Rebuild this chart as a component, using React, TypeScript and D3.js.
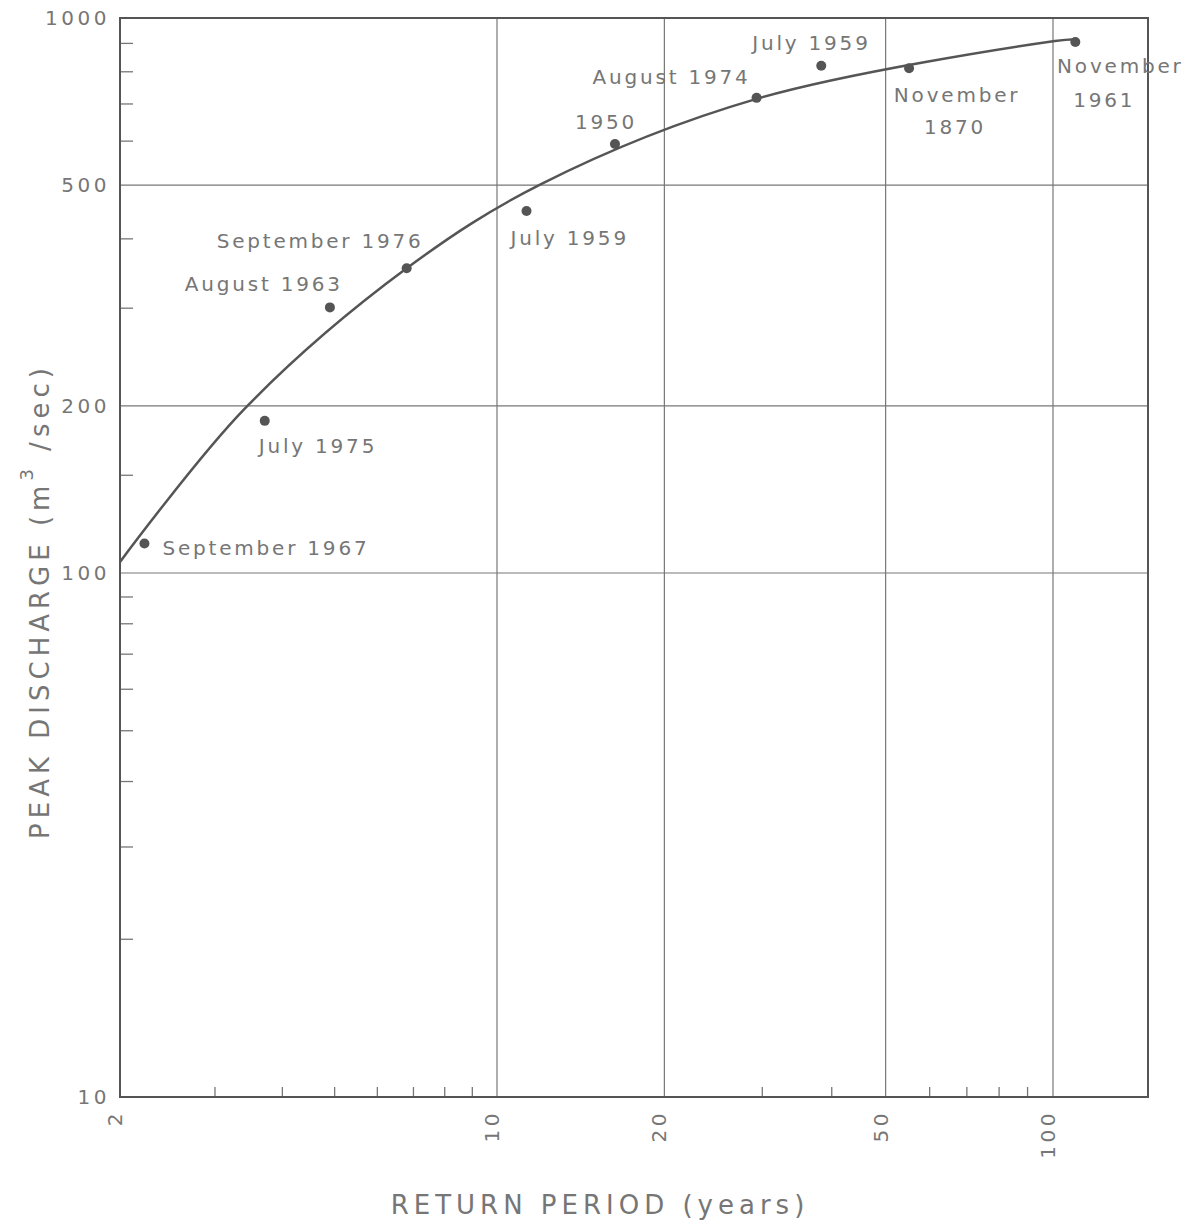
import React from "react";
import * as d3 from "d3";

// observed floods: return period (years) vs peak discharge (m3/sec)
const returnPeriods = [2.22, 3.71, 4.9, 6.8, 11.3, 16.3, 29.3, 38.3, 55.1, 110];
const discharges = [113, 188, 301, 354, 449, 593, 718, 820, 812, 905];
const eventLabels = [
  ["September 1967"],
  ["July 1975"],
  ["August 1963"],
  ["September 1976"],
  ["July 1959"],
  ["1950"],
  ["August 1974"],
  ["July 1959"],
  ["November", "1870"],
  ["November", "1961"],
];

// fitted frequency curve
const curvePeriods = [2.0, 3.41, 6.8, 12, 29.3, 100.8, 110];
const curveDischarges = [104.7, 198, 354, 502, 715, 909, 916];

// axes
const xLabelTicks = [2, 10, 20, 50, 100];
const xGridTicks = [10, 20, 50, 100];
const xMinorTicks = [3, 4, 5, 6, 7, 8, 9, 30, 40, 60, 70, 80, 90];
const yLabelTicks = [10, 100, 200, 500, 1000];
const yGridTicks = [100, 200, 500];
const yMinorTicks = [20, 30, 40, 50, 60, 70, 80, 90, 150, 300, 400, 600, 700, 800, 900];

// label placement relative to each dot: [anchor, dx, dy] per line
const labelPlacement: [string, number, number][][] = [
  [["start", 18, 4]],
  [["start", -6, 25]],
  [["end", 13, -23]],
  [["end", 17, -27]],
  [["start", -16, 27]],
  [["middle", -9, -22]],
  [["end", -6, -21]],
  [["start", -69, -23]],
  [["middle", 48, 27], ["middle", 46, 59]],
  [["middle", 45, 24], ["middle", 29, 58]],
];

const W = 1185;
const H = 1225;
const left = 120, right = 1148, top = 18, bottom = 1097;

const x = d3.scaleLog().domain([2, 10, 100, 150]).range([left, 497, 1053, right]);
const y = d3.scaleLog().domain([10, 100, 1000]).range([bottom, 573, top]);

const ink = "#555";
const textInk = "#767676";
const font = "DejaVu Sans";

export default function App() {
  const curve = d3
    .line<number>()
    .x((d, i) => x(curvePeriods[i]))
    .y((d) => y(d))
    .curve(d3.curveCatmullRom.alpha(0.5))(curveDischarges);

  return (
    <svg
      width={W}
      height={H}
      style={{ position: "absolute", left: 0, top: 0, background: "#fff" }}
      fontFamily={font}
    >
      {/* grid */}
      {xGridTicks.map((t) => (
        <line key={"xg" + t} x1={x(t)} x2={x(t)} y1={top} y2={bottom} stroke="#777" strokeWidth={1.2} />
      ))}
      {yGridTicks.map((t) => (
        <line key={"yg" + t} x1={left} x2={right} y1={y(t)} y2={y(t)} stroke="#777" strokeWidth={1.2} />
      ))}
      {/* minor ticks */}
      {xMinorTicks.map((t) => (
        <line key={"xm" + t} x1={x(t)} x2={x(t)} y1={bottom} y2={bottom - 10} stroke="#777" strokeWidth={1.3} />
      ))}
      {yMinorTicks.map((t) => (
        <line key={"ym" + t} x1={left} x2={left + 13} y1={y(t)} y2={y(t)} stroke="#777" strokeWidth={1.3} />
      ))}
      {/* frame */}
      <rect x={left} y={top} width={right - left} height={bottom - top} fill="none" stroke={ink} strokeWidth={2} />

      {/* tick labels */}
      {yLabelTicks.map((t) => (
        <text
          key={"yl" + t}
          x={left - 10}
          y={y(t)}
          textAnchor="end"
          dominantBaseline="central"
          fontSize={20}
          letterSpacing={3.5}
          fill={textInk}
        >
          {t}
        </text>
      ))}
      {xLabelTicks.map((t) => (
        <text
          key={"xl" + t}
          transform={`translate(${x(t) - 5},${bottom + 13}) rotate(-90)`}
          textAnchor="end"
          dominantBaseline="central"
          fontSize={20}
          letterSpacing={3.5}
          fill={textInk}
        >
          {t}
        </text>
      ))}

      {/* axis titles */}
      <text x={600} y={1205} textAnchor="middle" dominantBaseline="central" fontSize={26} letterSpacing={5} fill={textInk}>
        RETURN PERIOD (years)
      </text>
      <text
        transform="translate(40,601) rotate(-90)"
        textAnchor="middle"
        dominantBaseline="central"
        fontSize={26}
        letterSpacing={5}
        fill={textInk}
      >
        PEAK DISCHARGE (m
        <tspan fontSize={18} dy={-14}>3</tspan>
        <tspan dy={14}> /sec)</tspan>
      </text>

      {/* fitted curve */}
      <path d={curve ?? ""} fill="none" stroke={ink} strokeWidth={2.5} />

      {/* points + labels */}
      {returnPeriods.map((p, i) => {
        const cx = x(p);
        const cy = y(discharges[i]);
        return (
          <g key={"pt" + i}>
            <circle cx={cx} cy={cy} r={5} fill={ink} />
            {eventLabels[i].map((line, j) => {
              const [anchor, dx, dy] = labelPlacement[i][j];
              return (
                <text
                  key={j}
                  x={cx + dx}
                  y={cy + dy}
                  textAnchor={anchor as any}
                  dominantBaseline="central"
                  fontSize={20}
                  letterSpacing={2.8}
                  fill={textInk}
                >
                  {line}
                </text>
              );
            })}
          </g>
        );
      })}
    </svg>
  );
}
